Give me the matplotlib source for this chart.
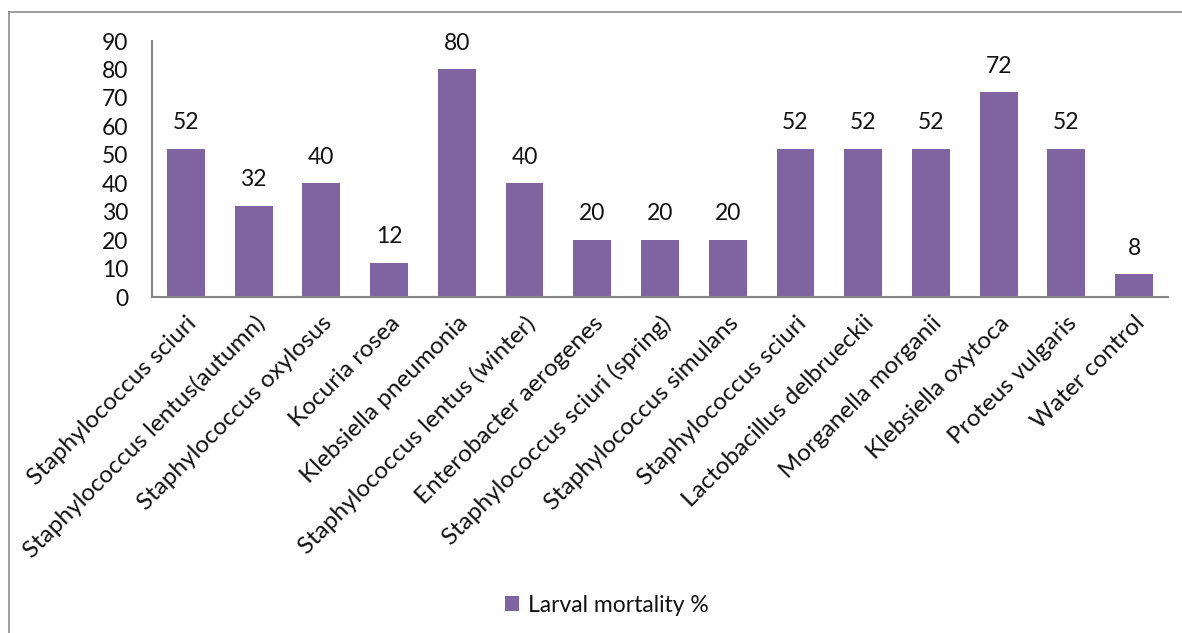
import matplotlib
matplotlib.use("Agg")
import matplotlib.pyplot as plt
from matplotlib.lines import Line2D

categories = ["Staphylococcus sciuri", "Staphylococcus lentus(autumn)", "Staphylococcus oxylosus",
              "Kocuria rosea", "Klebsiella pneumonia", "Staphylococcus lentus (winter)",
              "Enterobacter aerogenes", "Staphylococcus sciuri (spring)", "Staphylococcus simulans",
              "Staphylococcus sciuri", "Lactobacillus delbrueckii", "Morganella morganii",
              "Klebsiella oxytoca", "Proteus vulgaris", "Water control"]
mortality = [52, 32, 40, 12, 80, 40, 20, 20, 20, 52, 52, 52, 72, 52, 8]
series_name = "Larval mortality %"
yticks = list(range(0, 91, 10))

plt.rcParams['font.family'] = ['Lato', 'DejaVu Sans']
color = "#8064A2"
tcol = '#111111'

W, H = 1182, 633
fig = plt.figure(figsize=(W/100, H/100), dpi=100)
ax = fig.add_axes([152/W, 1-297/H, (1168-152)/W, (297-41)/H])

x = list(range(len(categories)))
bars = ax.bar(x, mortality, width=0.56, color=color)
for xi, v in zip(x, mortality):
    ax.text(xi, v + 5.5, str(v), ha='center', va='bottom', fontsize=16.5, color=tcol)

ax.set_xlim(-0.5, len(categories) - 0.5)
ax.set_ylim(0, 90)
ax.set_yticks(yticks)
ax.set_yticklabels([str(t) for t in yticks], fontsize=16.5, color=tcol)
ax.set_xticks(x)
ax.set_xticklabels(categories, rotation=45, ha='right', rotation_mode='anchor', fontsize=17.5, color=tcol)
ax.tick_params(axis='y', length=0, pad=17)
ax.tick_params(axis='x', length=0, pad=11)
for s in ['top', 'right']:
    ax.spines[s].set_visible(False)
for s in ['left', 'bottom']:
    ax.spines[s].set_color('#868686')
    ax.spines[s].set_linewidth(1.5)

# outer frame (left and top)
fig.add_artist(Line2D([9/W, 9/W], [0, 1-12/H], transform=fig.transFigure, color='#8c8c8c', lw=1.2))
fig.add_artist(Line2D([9/W, 1], [1-12/H, 1-12/H], transform=fig.transFigure, color='#8c8c8c', lw=1.2))

leg = fig.legend([bars], [series_name], loc='center', bbox_to_anchor=(607/W, 1-605/H),
                 frameon=False, fontsize=16.5, handlelength=0.6, handleheight=0.6, handletextpad=0.4,
                 labelcolor=tcol)

fig.savefig("out.png", dpi=100, facecolor='white')
